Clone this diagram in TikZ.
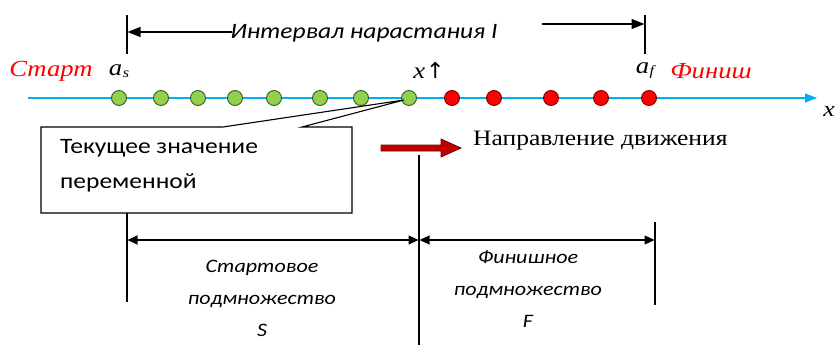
\documentclass[tikz,border=0pt]{standalone}
\usepackage{fontspec}
\setmainfont{Liberation Serif}[FakeStretch=1.16]
\setsansfont{Carlito}[FakeStretch=1.16]
\newfontfamily\symfont{DejaVu Sans}
\usetikzlibrary{arrows.meta}
\definecolor{axiscol}{RGB}{0,176,240}
\definecolor{gfill}{RGB}{146,208,80}
\definecolor{gline}{RGB}{60,90,30}
\definecolor{rfill}{RGB}{255,0,0}
\definecolor{rline}{RGB}{120,0,0}
\definecolor{darr}{RGB}{192,0,0}
\tikzset{
  gdot/.style={circle,draw=gline,fill=gfill,line width=0.9pt,minimum size=15pt,inner sep=0pt},
  rdot/.style={circle,draw=rline,fill=rfill,line width=0.9pt,minimum size=15pt,inner sep=0pt},
  tick/.style={draw=black,line width=1.1pt},
  dim/.style={draw=black,line width=1.1pt,{Triangle[length=10pt,width=9pt]}-{Triangle[length=10pt,width=9pt]}},
  lbl/.style={inner sep=0pt},
  redlbl/.style={inner sep=0pt,text=red,font=\fontsize{23}{25}\selectfont\itshape},
  sublbl/.style={inner sep=0pt,align=center,font=\fontsize{19}{32}\selectfont\sffamily\itshape}
}
\begin{document}
\begin{tikzpicture}[x=1pt,y=-1pt]
\useasboundingbox (0,0) rectangle (838,345);
% top interval
\coordinate (t1a) at (127,15); \coordinate (t1b) at (127,54);
\coordinate (t2a) at (645,15); \coordinate (t2b) at (645,54);
\draw[tick] (t1a) -- (t1b);
\draw[tick] (t2a) -- (t2b);
\coordinate (la) at (232,32); \coordinate (lb) at (127.5,32);
\coordinate (ra) at (542,24); \coordinate (rb) at (644.5,24);
\draw[line width=1.1pt,-{Triangle[length=13pt,width=10pt]}] (la) -- (lb);
\draw[line width=1.1pt,-{Triangle[length=13pt,width=10pt]}] (ra) -- (rb);
\node[lbl,font=\fontsize{22}{24}\selectfont\sffamily\itshape] (int) at (364,33) {Интервал нарастания I};
% labels above axis
\node[redlbl] (start) at (51,71) {Старт};
\node[lbl,font=\fontsize{23}{25}\selectfont\itshape] (as) at (119,71) {a\kern0.5pt\raisebox{-2pt}{\fontsize{14}{14}\selectfont s}};
\node[lbl,font=\fontsize{23}{25}\selectfont\itshape,anchor=base] (xv) at (429,78) {x\kern1pt{\symfont\upshape\fontsize{22}{24}\selectfont ↑}};
\node[lbl,font=\fontsize{23}{25}\selectfont\itshape] (af) at (645,71) {a\kern0.5pt\raisebox{-2pt}{\fontsize{14}{14}\selectfont f}};
\node[redlbl] (fin) at (711,71) {Финиш};
% axis
\coordinate (ax0) at (28,98); \coordinate (ax1) at (817,98);
\draw[axiscol,line width=1.6pt,-{Triangle[length=12pt,width=9pt]}] (ax0) -- (ax1);
\node[lbl,font=\fontsize{22}{24}\selectfont\itshape] (xl) at (829,111) {x};
% dots
\foreach \i/\x in {1/119,2/161,3/198,4/235,5/274,6/320,7/361,8/409}
  \node[gdot] (g\i) at (\x,98) {};
\foreach \i/\x in {1/452,2/494,3/551,4/601,5/649}
  \node[rdot] (r\i) at (\x,98) {};
% callout
\coordinate (c1) at (223,127); \coordinate (c2) at (302,127);
\coordinate (ctip) at (404,100);
\coordinate (bl) at (41,127); \coordinate (bll) at (41,213);
\coordinate (brr) at (352,213); \coordinate (br) at (352,127);
\draw[line width=1.1pt,fill=white] (c1) -- (bl) -- (bll) -- (brr) -- (br) -- (c2) -- (ctip) -- cycle;
\node[lbl,anchor=west,align=left,font=\fontsize{22}{35}\selectfont\sffamily] (cur) at (60,166) {Текущее значение\\переменной};
% direction arrow
\draw[draw=rline,fill=darr,line width=0.8pt] (381,145) -- (441,145) -- (441,139) -- (461,148) -- (441,157) -- (441,151) -- (381,151) -- cycle;
\node[lbl,anchor=west,font=\fontsize{22}{24}\selectfont] (dir) at (473,141) {Направление движения};
% bottom lines
\coordinate (v1a) at (127,213); \coordinate (v1b) at (127,302);
\coordinate (v2a) at (419,155); \coordinate (v2b) at (419,345);
\coordinate (v3a) at (655,222); \coordinate (v3b) at (655,305);
\draw[tick] (v1a) -- (v1b);
\draw[tick] (v2a) -- (v2b);
\draw[tick] (v3a) -- (v3b);
\coordinate (d1) at (127.5,240); \coordinate (d2) at (418.5,240);
\coordinate (d3) at (419.5,240); \coordinate (d4) at (654.5,240);
\draw[dim] (d1) -- (d2);
\draw[dim] (d3) -- (d4);
\node[sublbl] (ss) at (262,298) {Стартовое\\подмножество\\S};
\node[sublbl] (fs) at (528,289) {Финишное\\подмножество\\F};
\end{tikzpicture}
\end{document}
